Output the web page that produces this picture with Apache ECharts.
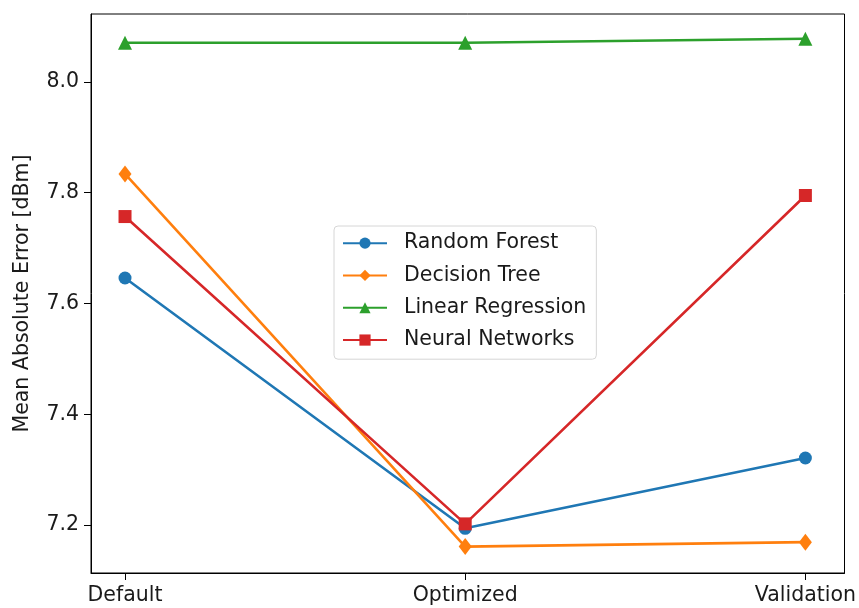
<!DOCTYPE html>
<html>
<head>
<meta charset="utf-8">
<script src="https://cdn.jsdelivr.net/npm/echarts@6/dist/echarts.min.js"></script>
<style>html,body{margin:0;padding:0;background:#fff}#c{width:859px;height:608px}</style>
</head>
<body>
<div id="c"></div>
<script>
const categories = ['Default', 'Optimized', 'Validation'];
const randomForest = [7.646, 7.194, 7.321];
const decisionTree = [7.834, 7.161, 7.169];
const linearRegression = [8.071, 8.071, 8.078];
const neuralNetworks = [7.757, 7.202, 7.795];
const yTicks = [7.2, 7.4, 7.6, 7.8, 8.0];
const xTicks = [0, 1, 2];

const font = 'DejaVu Sans';
const fs = 20.5;
const pts = arr => arr.map((v, i) => [i, v]);
function mk(name, data, color, symbol, size) {
  return {
    name, type: 'line', data: pts(data), symbol, symbolSize: size,
    itemStyle: { color }, lineStyle: { color, width: 2.6 },
    emphasis: { disabled: true }, animation: false
  };
}
const chart = echarts.init(document.getElementById('c'));
chart.setOption({
  animation: false,
  grid: { left: 91, right: 11, top: 14, bottom: 35, show: true, borderColor: '#000', borderWidth: 1 },
  xAxis: {
    type: 'value', min: -0.1, max: 2.115,
    axisLine: { show: true, onZero: false, lineStyle: { color: '#000' } },
    axisTick: { show: true, customValues: xTicks, length: 7, lineStyle: { color: '#000' } },
    axisLabel: { customValues: xTicks, formatter: v => categories[Math.round(v)], color: '#1a1a1a', fontFamily: font, fontSize: fs, margin: 12 },
    splitLine: { show: false }
  },
  yAxis: {
    type: 'value', min: 7.1133, max: 8.1228,
    name: 'Mean Absolute Error [dBm]', nameLocation: 'middle', nameGap: 58,
    nameTextStyle: { color: '#1a1a1a', fontFamily: font, fontSize: fs },
    axisLine: { show: true, onZero: false, lineStyle: { color: '#000' } },
    axisTick: { show: true, customValues: yTicks, length: 7, lineStyle: { color: '#000' } },
    axisLabel: { customValues: yTicks, formatter: v => v.toFixed(1), color: '#1a1a1a', fontFamily: font, fontSize: fs, margin: 12 },
    splitLine: { show: false }
  },
  legend: {
    orient: 'vertical', left: 334, top: 226,
    itemWidth: 44, itemHeight: 14, itemGap: 10,
    backgroundColor: '#fff', borderColor: '#d6d6d6', borderWidth: 1, borderRadius: 4,
    padding: [6, 10, 8, 8],
    textStyle: { color: '#1a1a1a', fontFamily: font, fontSize: fs, lineHeight: 22.3, padding: [0, 0, 0, 12] },
    data: ['Random Forest', 'Decision Tree', 'Linear Regression', 'Neural Networks']
  },
  series: [
    mk('Random Forest', randomForest, '#1f77b4', 'circle', 13),
    mk('Decision Tree', decisionTree, '#ff7f0e', 'diamond', [13, 17]),
    mk('Linear Regression', linearRegression, '#2ca02c', 'triangle', 14),
    mk('Neural Networks', neuralNetworks, '#d62728', 'rect', 13)
  ]
});
</script>
</body>
</html>
